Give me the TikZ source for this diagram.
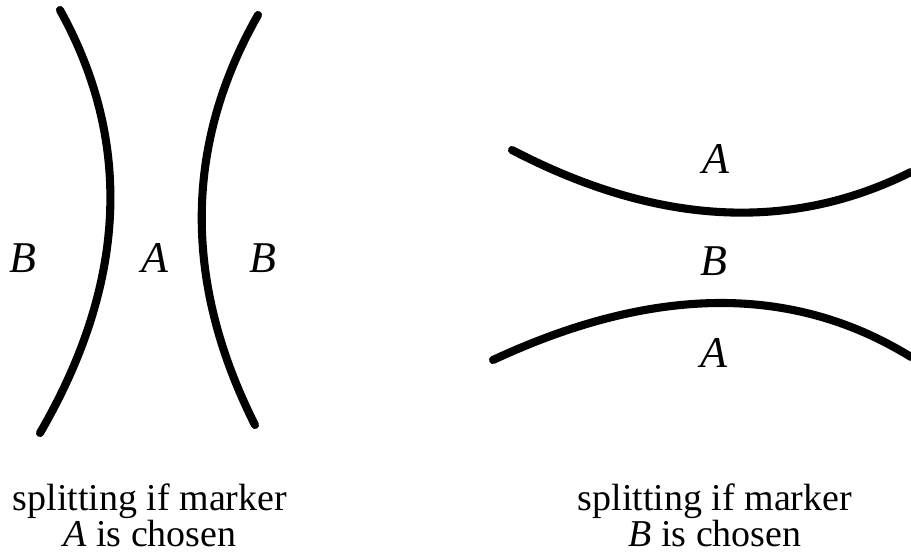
\documentclass[tikz,border=0pt]{standalone}
\usepackage{fontspec}
\setmainfont{Liberation Serif}

\begin{document}
\begin{tikzpicture}[
  curve/.style={line width=2.3pt,line cap=round},
  letter/.style={anchor=base,inner sep=0pt,font=\fontsize{12.5}{14}\selectfont\itshape},
  caption/.style={anchor=north,inner sep=0pt,align=center,font=\fontsize{10.8}{10.2}\selectfont}
]
\useasboundingbox (0,0) rectangle (9.11,5.53);
% splitting with marker A
\draw[curve] (0.60,5.43) .. controls (1.33,4.11) and (1.27,2.70) .. (0.40,1.20);
\draw[curve] (2.58,5.38) .. controls (1.84,4.08) and (1.83,2.71) .. (2.55,1.28);
\node[letter] (bleft) at (0.23,2.81) {B};
\node[letter] (amid) at (1.55,2.81) {A};
\node[letter] (bright) at (2.63,2.81) {B};
\node[caption] (capA) at (1.50,0.70) {splitting if marker\\\textit{A} is chosen};
% splitting with marker B
\draw[curve] (5.12,4.03) .. controls (6.56,3.28) and (7.89,3.20) .. (9.11,3.81);
\draw[curve] (4.93,1.93) .. controls (6.54,2.68) and (7.93,2.69) .. (9.11,1.96);
\node[letter] (atop) at (7.16,3.80) {A};
\node[letter] (bmid) at (7.14,2.78) {B};
\node[letter] (abot) at (7.14,1.86) {A};
\node[caption] (capB) at (7.15,0.70) {splitting if marker\\\textit{B} is chosen};
\end{tikzpicture}
\end{document}
